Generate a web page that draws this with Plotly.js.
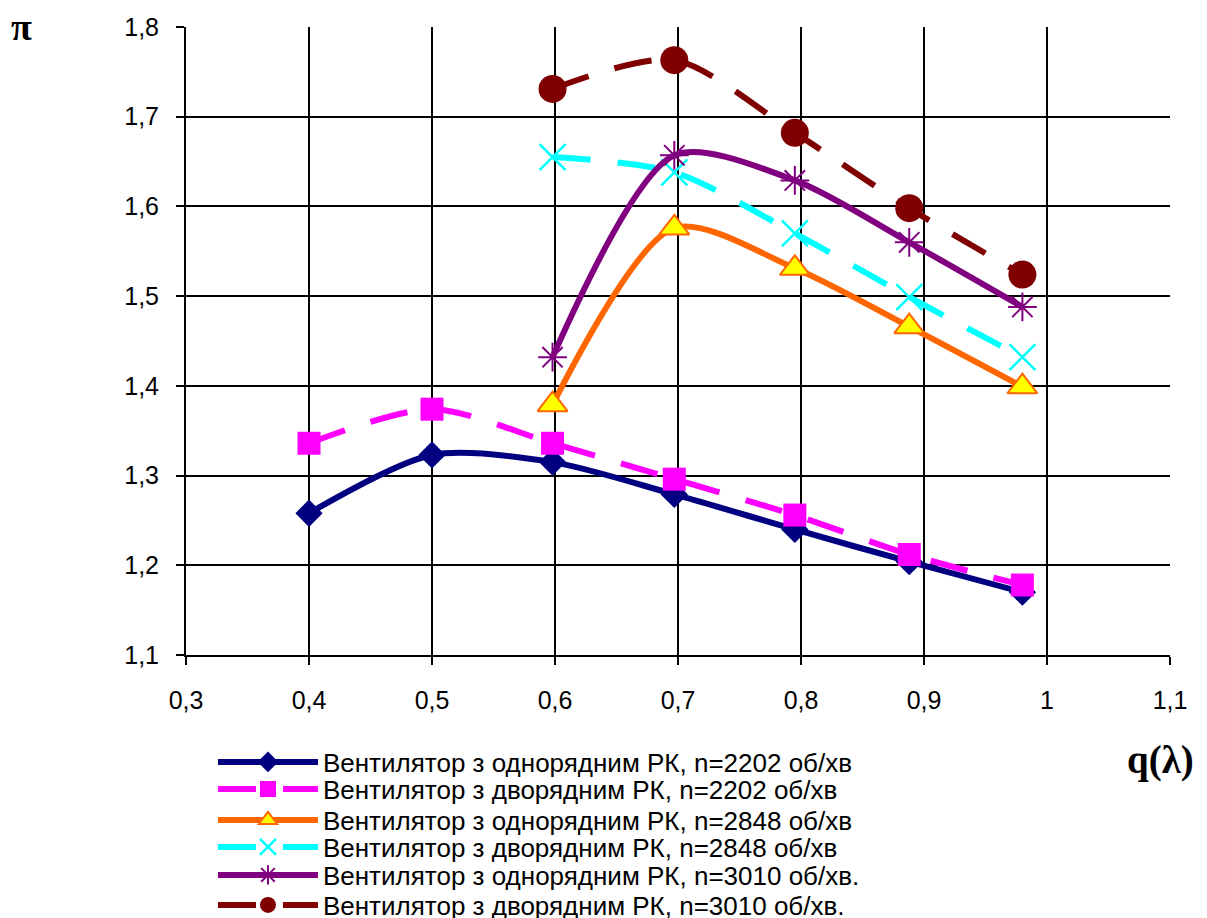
<!DOCTYPE html>
<html>
<head>
<meta charset="utf-8">
<script src="https://cdn.plot.ly/plotly-3.0.1.min.js"></script>
<style>html,body{margin:0;padding:0;background:#fff;}#chart{width:1207px;height:918px;}</style>
</head>
<body>
<div id="chart"></div>
<script>
const names = [
  "Вентилятор з однорядним РК, n=2202 об/хв",
  "Вентилятор з дворядним РК, n=2202 об/хв",
  "Вентилятор з однорядним РК, n=2848 об/хв",
  "Вентилятор з дворядним РК, n=2848 об/хв",
  "Вентилятор з однорядним РК, n=3010 об/хв.",
  "Вентилятор з дворядним РК, n=3010 об/хв."
];
const x2202 = [0.4, 0.5, 0.598, 0.697, 0.795, 0.888, 0.98];
const x2848 = [0.598, 0.697, 0.795, 0.888, 0.98];
const y1_2202 = [1.258, 1.323, 1.315, 1.279, 1.240, 1.204, 1.170];
const y2_2202 = [1.336, 1.374, 1.336, 1.296, 1.256, 1.212, 1.178];
const y1_2848 = [1.379, 1.576, 1.531, 1.466, 1.399];
const y2_2848 = [1.655, 1.638, 1.570, 1.499, 1.432];
const y1_3010 = [1.432, 1.657, 1.629, 1.560, 1.488];
const y2_3010 = [1.731, 1.763, 1.682, 1.598, 1.524];
const xTicks = [0.3, 0.4, 0.5, 0.6, 0.7, 0.8, 0.9, 1.0, 1.1];
const yTicks = [1.1, 1.2, 1.3, 1.4, 1.5, 1.6, 1.7, 1.8];

const dash = "38px,27px";
const sm = 0.8;
const traces = [
  {x: x2202, y: y1_2202, name: names[0], legend:"legend", line:{color:"#000080", width:6, shape:"spline", smoothing:sm},
   marker:{symbol:"diamond", size:21, color:"#000080"}},
  {x: x2202, y: y2_2202, name: names[1], legend:"legend2", line:{color:"#FF00FF", width:6, dash:dash, shape:"spline", smoothing:sm},
   marker:{symbol:"square", size:23, color:"#FF00FF"}},
  {x: x2848, y: y1_2848, name: names[2], legend:"legend3", line:{color:"#FF6600", width:6, shape:"spline", smoothing:sm},
   marker:{symbol:"triangle-up", size:26, color:"#FFFF00", line:{color:"#FF6600", width:2}}},
  {x: x2848, y: y2_2848, name: names[3], legend:"legend4", line:{color:"#00FFFF", width:6, dash:dash, shape:"spline", smoothing:sm},
   marker:{symbol:"x-thin-open", size:26, color:"#00FFFF", line:{color:"#00FFFF", width:2.5}}},
  {x: x2848, y: y1_3010, name: names[4], legend:"legend5", line:{color:"#800080", width:6, shape:"spline", smoothing:sm},
   marker:{symbol:"asterisk-open", size:24, color:"#800080", line:{color:"#800080", width:2}}},
  {x: x2848, y: y2_3010, name: names[5], legend:"legend6", line:{color:"#800000", width:6, dash:dash, shape:"spline", smoothing:sm},
   marker:{symbol:"circle", size:28, color:"#800000"}}
].map(t => Object.assign({type:"scatter", mode:"lines+markers"}, t));

const rowY = [-0.1704, -0.2134, -0.2627, -0.3057, -0.3503, -0.3981];
function leg(y) {
  return {x:0.0274, y:y, xanchor:"left", yanchor:"middle", font:{size:26, color:"#000"},
          bgcolor:"rgba(0,0,0,0)", itemwidth:100, borderwidth:0};
}

const layout = {
  width:1207, height:918,
  margin:{l:186, r:37, t:27, b:263, autoexpand:false},
  paper_bgcolor:"#fff", plot_bgcolor:"#fff",
  separators:", ",
  font:{family:"Liberation Sans, Arial, sans-serif", size:25, color:"#000"},
  showlegend:true,
  legend:leg(rowY[0]), legend2:leg(rowY[1]), legend3:leg(rowY[2]),
  legend4:leg(rowY[3]), legend5:leg(rowY[4]), legend6:leg(rowY[5]),
  xaxis:{range:[0.3,1.1], tickvals:xTicks, tickformat:".1~f", showgrid:true, gridcolor:"#000", gridwidth:2,
         zeroline:false, showline:true, linecolor:"#000", linewidth:2, ticks:"outside", ticklen:8, tickcolor:"#000", tickwidth:2,
         ticklabelstandoff:14, tickfont:{size:25}},
  yaxis:{range:[1.1,1.8], tickvals:yTicks, tickformat:".1f", showgrid:true, gridcolor:"#000", gridwidth:2,
         zeroline:false, showline:true, linecolor:"#000", linewidth:2, ticks:"outside", ticklen:8, tickcolor:"#000", tickwidth:2,
         ticklabelstandoff:12, tickfont:{size:25}},
  annotations:[
    {text:"<b>π</b>", xref:"paper", yref:"paper", x:-0.167, y:1.0, xanchor:"center", yanchor:"middle", showarrow:false,
     font:{family:"Liberation Serif, Times New Roman, serif", size:38, color:"#000"}},
    {text:"<b>q(λ)</b>", xref:"paper", yref:"paper", x:0.99, y:-0.167, xanchor:"center", yanchor:"middle", showarrow:false,
     font:{family:"Liberation Serif, Times New Roman, serif", size:39, color:"#000"}}
  ]
};
Plotly.newPlot("chart", traces, layout, {displayModeBar:false, staticPlot:true});
</script>
</body>
</html>
